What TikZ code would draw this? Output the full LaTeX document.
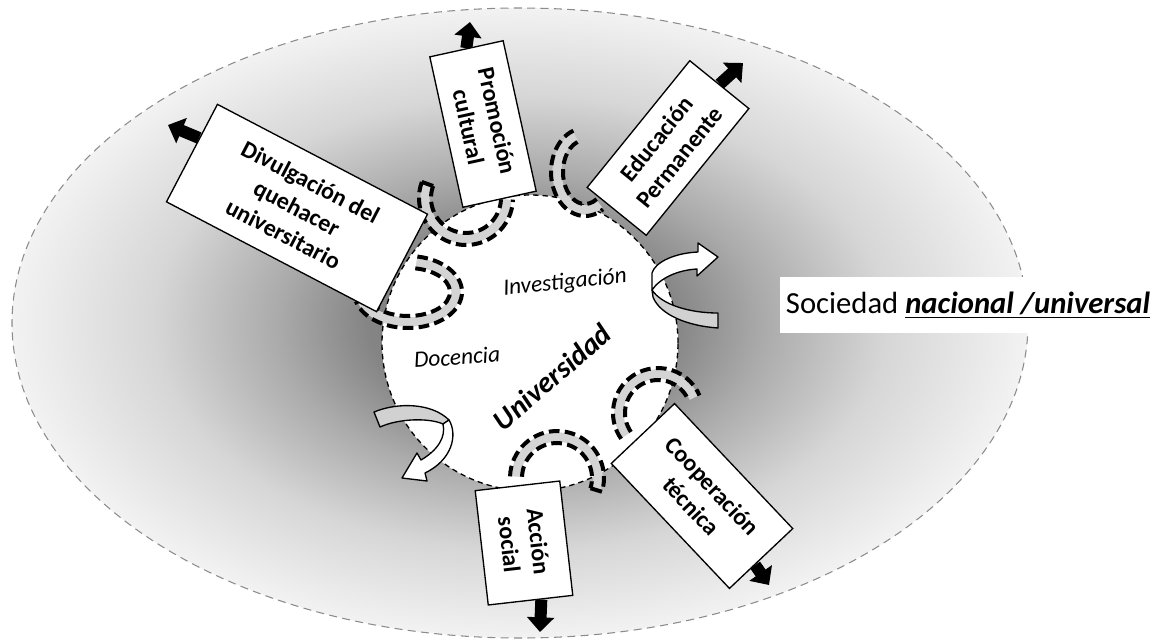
\documentclass[tikz,border=0pt]{standalone}
\usepackage{fontspec}
\setmainfont{Carlito}
\usetikzlibrary{arrows.meta,calc}
\pgfdeclarelayer{ground}
\pgfdeclarelayer{under}
\pgfsetlayers{ground,under,main}
\pgfdeclareradialshading{sociedadshade}{\pgfpoint{0bp}{0bp}}{color(0bp)=(black!55); color(7.5bp)=(black!48); color(12bp)=(black!33); color(18bp)=(black!16); color(25bp)=(black!5); color(50bp)=(black!5)}
\tikzset{every picture/.style={line width=0.75pt}}
\tikzset{
  funcbox/.style={draw, fill=white, line width=1pt, align=center, inner sep=2pt, font=\fontsize{18}{22}\selectfont\bfseries},
  fatarrow/.style={line width=9pt, -{Triangle[length=11pt,width=20pt]}},
  bandgray/.style={line width=7pt, color=black!17},
  banddash/.style={line width=3pt, dash pattern=on 8pt off 4pt},
  ribbonfront/.style={draw, fill=white, line width=1pt, line join=round},
  ribbonback/.style={draw, fill=black!18, line width=1pt, line join=round},
  roletext/.style={font=\fontsize{17.5}{20}\selectfont\itshape},
}

\begin{document}
\begin{tikzpicture}[x=0.75pt,y=0.75pt,yscale=-1,xscale=1]
\useasboundingbox (0,0) rectangle (1156,643);

\begin{pgfonlayer}{ground}
%Shape: Ellipse [sociedad]
\shade[shading=sociedadshade] (520,323) ellipse [x radius=508, y radius=315];
\draw[draw=black!45, line width=0.8pt, dash pattern=on 6pt off 4pt] (520,323) ellipse [x radius=508, y radius=315];
%Shape: Circle [universidad]
\node[draw, circle, fill=white, line width=1pt, dash pattern=on 4pt off 3pt, minimum size=222pt, inner sep=0pt] (univcirc) at (530,343) {};
%Dashed loops
\foreach \cx/\cy/\rx/\ry/\sa/\ea in {466/198/41/41/200/2, 585/172/28/38/250/58, 408/292/48/30/-80/165, 658/413/39/39/145/337, 557/478/41/41/182/377} {
  \draw[bandgray] (\cx,\cy) ++(\sa:{\rx} and {\ry}) arc[start angle=\sa, end angle=\ea, x radius=\rx, y radius=\ry];
  \foreach \d in {-6,6} {
    \pgfmathsetmacro{\ax}{\rx+\d}
    \pgfmathsetmacro{\ay}{\ry+\d}
    \draw[banddash] (\cx,\cy) ++(\sa:{\ax} and {\ay}) arc[start angle=\sa, end angle=\ea, x radius=\ax, y radius=\ay];
  }
}
%Loop ends
\draw[line width=3pt] ($(466,198)+(200:47 and 47)$) -- ($(466,198)+(200:35 and 35)$);
\draw[line width=3pt] ($(408,292)+(165:54 and 36)$) -- ($(408,292)+(165:42 and 24)$);
\draw[line width=3pt] ($(557,478)+(377:47 and 47)$) -- ($(557,478)+(377:35 and 35)$);
\end{pgfonlayer}

% Boxes
\node[funcbox, rotate=-27.6, minimum width=177.8pt, minimum height=82.5pt] (divul) at (297,208) {Divulgación del\\quehacer\\universitario};
\node[funcbox, rotate=-77.6, minimum width=115.5pt, minimum height=56.3pt] (prom) at (483,124) {Promoción\\cultural};
\node[funcbox, rotate=51, minimum width=122.3pt, minimum height=57pt] (educ) at (668,148) {Educación\\Permanente};
\node[funcbox, rotate=-46.6, minimum width=129pt, minimum height=65.3pt] (coop) at (702,496) {Cooperación\\técnica};
\node[funcbox, rotate=-83.5, minimum width=86.3pt, minimum height=63.8pt] (acc) at (524,543) {Acción\\social};

% Arrow tips
\coordinate (divultip) at (168,125);
\coordinate (promtip) at (470,22);
\coordinate (eductip) at (743,63);
\coordinate (cooptip) at (769,585);
\coordinate (acctip) at (540,632);

\begin{pgfonlayer}{under}
\draw[fatarrow] ($(divul.north west)!0.35!(divul.south west)$) -- (divultip);
\draw[fatarrow] (prom.west) -- (promtip);
\draw[fatarrow] (educ.east) -- (eductip);
\draw[fatarrow] ($(coop.east)!0.2!(coop.south east)$) -- (cooptip);
\draw[fatarrow] ($(acc.east)!0.25!(acc.north east)$) -- (acctip);
\end{pgfonlayer}

%Curved arrow [right]
\draw[ribbonback] (652,290) .. controls (662,305) and (690,313) .. (718,313) -- (718,328) .. controls (688,326) and (660,315) .. (653,297) -- cycle;
\draw[ribbonfront] (652,290) -- (652,273) .. controls (655,262) and (675,253) .. (698,252) -- (698,243) -- (718,257) -- (697,276) -- (697,269) .. controls (678,270) and (660,278) .. (652,290) -- cycle;
%Curved arrow [left]
\draw[ribbonback] (374,412) .. controls (398,402) and (432,403) .. (449,420) -- (443,424) .. controls (430,418) and (400,418) .. (380,427) -- cycle;
\draw[ribbonfront] (449,420) .. controls (458,435) and (452,460) .. (425,473) -- (427,481) -- (402,478) -- (417,453) -- (421,460) .. controls (438,450) and (446,437) .. (443,424) -- cycle;

% Text Node
\node[roletext, rotate=6] (invest) at (565,283) {Investigación};
% Text Node
\node[roletext, rotate=4] (docen) at (457,357) {Docencia};
% Text Node
\node[font=\fontsize{22}{26}\selectfont\bfseries\itshape, rotate=41] (univ) at (552,377) {Universidad};
% Text Node
\node[fill=white, minimum width=282pt, minimum height=42pt, inner sep=0pt, font=\fontsize{23}{27}\selectfont] (sociedad) at (968,305) {Sociedad \textbf{\textit{\underline{nacional /universal}}}};

\end{tikzpicture}
\end{document}
